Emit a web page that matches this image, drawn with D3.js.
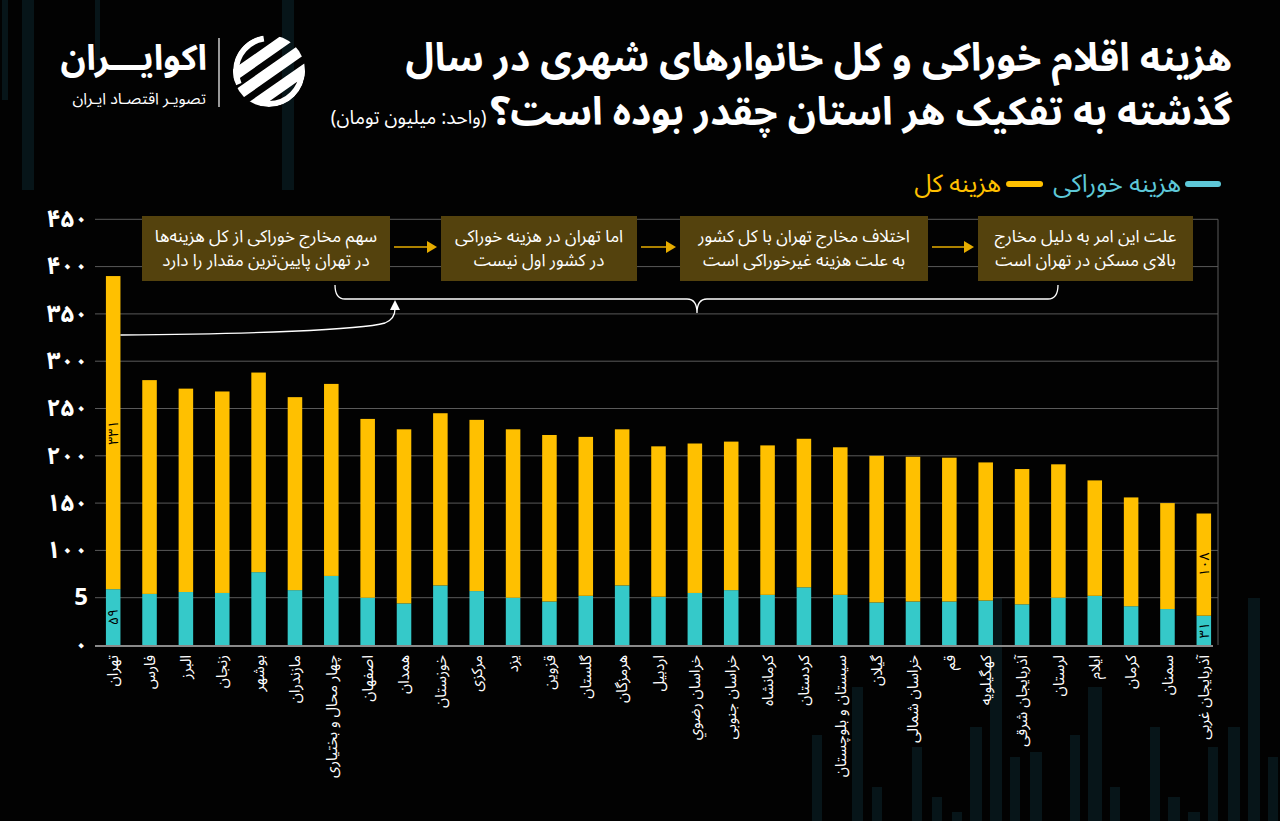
<!DOCTYPE html>
<html><head><meta charset="utf-8">
<script src="https://cdn.jsdelivr.net/npm/d3@7"></script>
<style>
html,body{margin:0;padding:0;background:#020202;}
svg{display:block;}
text{font-family:"Noto Sans Arabic","Vazirmatn","DejaVu Sans",sans-serif;}
</style></head>
<body>
<svg id="chart" width="1280" height="821"></svg>
<script>
// ---------- data ----------
const provinces = ["تهران","فارس","البرز","زنجان","بوشهر","مازندران","چهار محال و بختیاری","اصفهان","همدان","خوزستان","مرکزی","یزد","قزوین","گلستان","هرمزگان","اردبیل","خراسان رضوي","خراسان جنوبی","کرمانشاه","کردستان","سیستان و بلوچستان","گیلان","خراسان شمالی","قم","کهگیلویه","آذربایجان شرقی","لرستان","ایلام","کرمان","سمنان","آذربایجان غربی"];
const foodCost =    [59,54,56,55,77,58,73,50,44,63,57,50,46,52,63,51,55,58,53,61,53,45,46,46,47,43,50,52,41,38,31];
const nonFoodCost = [331,226,215,213,211,204,203,189,184,182,181,178,176,168,165,159,158,157,158,157,156,155,153,152,146,143,141,122,115,112,108];
const yTicks = [0,50,100,150,200,250,300,350,400,450];
const yTickLabels = ["۰","5","۱۰۰","۱۵۰","۲۰۰","۲۵۰","۳۰۰","۳۵۰","۴۰۰","۴۵۰"];
const labeledBars = ["تهران","آذربایجان غربی"];
const seriesNames = ["هزینه خوراکی","هزینه کل"];
const titleLines = ["هزینه اقلام خوراکی و کل خانوارهای شهری در سال","گذشته به تفکیک هر استان چقدر بوده است؟"];
const unitText = "(واحد: میلیون تومان)";
const notes = [
  ["سهم مخارج خوراکی از کل هزینه‌ها","در تهران پایین‌ترین مقدار را دارد"],
  ["اما تهران در هزینه خوراکی","در کشور اول نیست"],
  ["اختلاف مخارج تهران با کل کشور","به علت هزینه غیرخوراکی است"],
  ["علت این امر به دلیل مخارج","بالای مسکن در تهران است"]
];

// ---------- styles / layout ----------
const C_FOOD = "#35c9c9", C_TOTAL = "#ffc000", C_NOTE = "#54420d", C_LEGFOOD = "#5ec8d8";
const fa = s => String(s).replace(/\d/g, d => "۰۱۲۳۴۵۶۷۸۹"[d]);
const svg = d3.select("#chart");
svg.append("rect").attr("width",1280).attr("height",821).attr("fill","#020202");

// decorative background bars
const decor = [[2,0,6,100],[22,0,12,190],[95,0,5,60],[282,0,12,190],
 [812,735,10,86],[852,687,11,134],[872,787,10,34],[912,747,10,74],[932,797,10,24],[952,812,10,9],
 [970,727,12,94],[990,598,12,223],[1010,757,10,64],[1030,752,12,69],[1070,735,10,86],[1088,687,14,134],
 [1110,787,10,34],[1150,727,10,94],[1168,797,12,24],[1188,812,12,9],[1208,747,10,74],[1228,727,12,94],
 [1248,598,12,223],[1268,757,10,64]];
svg.append("g").selectAll("rect").data(decor).join("rect")
  .attr("x",d=>d[0]).attr("y",d=>d[1]).attr("width",d=>d[2]).attr("height",d=>d[3]).attr("fill","#071519");

// scales
const x = d3.scaleBand().domain(provinces).range([95,1222]).paddingInner(0.6).paddingOuter(0.3);
const y = d3.scaleLinear().domain([0,450]).range([645,219.3]);

// grid
const grid = svg.append("g");
grid.selectAll("line").data(yTicks.slice(1)).join("line")
  .attr("x1",95).attr("x2",1218).attr("y1",d=>y(d)).attr("y2",d=>y(d))
  .attr("stroke","#5a5a5a").attr("stroke-width",1);
grid.append("line").attr("x1",1218).attr("x2",1218).attr("y1",y(450)).attr("y2",y(0)).attr("stroke","#5a5a5a");

// y axis labels
const yAxis = d3.axisLeft(y).tickValues(yTicks).tickSize(0).tickPadding(0)
  .tickFormat((d,i)=>yTickLabels[i]);
const yg = svg.append("g").attr("transform","translate(88,0)").call(yAxis);
yg.select(".domain").remove();
yg.selectAll("text").attr("fill","#fff").attr("font-size",24).attr("font-weight","bold").attr("dy","0.3em");

// stacked bars
const rows = provinces.map((p,i)=>({p, food:foodCost[i], non:nonFoodCost[i]}));
const stack = d3.stack().keys(["food","non"])(rows);
const colors = [C_FOOD, C_TOTAL];
svg.append("g").selectAll("g").data(stack).join("g").attr("fill",(d,i)=>colors[i])
  .selectAll("rect").data(d=>d).join("rect")
  .attr("x",d=>x(d.data.p)).attr("width",x.bandwidth())
  .attr("y",d=>y(d[1])).attr("height",d=>y(d[0])-y(d[1]));

// bottom axis line
svg.append("line").attr("x1",95).attr("x2",1213).attr("y1",y(0)+1).attr("y2",y(0)+1)
  .attr("stroke","#8a8a8a").attr("stroke-width",2);

// x labels
const xAxis = d3.axisBottom(x).tickSize(0).tickPadding(0);
const xg = svg.append("g").attr("transform",`translate(0,${y(0)})`).call(xAxis);
xg.select(".domain").remove();
xg.selectAll("text").attr("fill","#fff").attr("font-size",15)
  .attr("transform","translate(0,10) rotate(-90)").attr("text-anchor","end")
  .attr("x",0).attr("y",0).attr("dy","0.35em");

// value labels inside labelled bars
const vl = svg.append("g").attr("font-size",14).attr("fill","#000").attr("text-anchor","middle");
stack.forEach(s=>{
  s.filter(d=>labeledBars.includes(d.data.p)).forEach(d=>{
    const cx = x(d.data.p)+x.bandwidth()/2, cy = (y(d[0])+y(d[1]))/2;
    vl.append("text").attr("transform",`translate(${cx},${cy}) rotate(-90)`)
      .attr("dy","0.35em").text(fa(d[1]-d[0]));
  });
});

// title
const tg = svg.append("g").attr("fill","#fff").attr("font-weight","bold").attr("font-size",39).attr("text-anchor","end");
tg.append("text").attr("x",1232).attr("y",71).text(titleLines[0]);
const t2 = tg.append("text").attr("x",1232).attr("y",125).text(titleLines[1]);
const w2 = t2.node().getComputedTextLength();
svg.append("text").attr("x",1232-w2-4).attr("y",124).attr("text-anchor","end")
  .attr("fill","#fff").attr("font-size",19).text(unitText);

// logo
const lg = svg.append("g");
lg.append("text").attr("x",207).attr("y",70).attr("text-anchor","end").attr("fill","#fff")
  .attr("font-weight","bold").attr("font-size",35).text("اکوایـــران");
lg.append("text").attr("x",206).attr("y",104).attr("text-anchor","end").attr("fill","#fff")
  .attr("font-size",16).text("تصویـر اقتصـاد ایـران");
lg.append("line").attr("x1",219).attr("x2",219).attr("y1",38).attr("y2",107).attr("stroke","#fff").attr("stroke-width",1.2);
const defs = svg.append("defs");
defs.append("clipPath").attr("id","logoclip").append("circle").attr("cx",269).attr("cy",71).attr("r",36);
const ic = lg.append("g").attr("clip-path","url(#logoclip)");
[-22,-4,14].forEach(o=>{
  ic.append("rect").attr("x",220).attr("y",71+o).attr("width",100).attr("height",11).attr("rx",5)
    .attr("fill","#fff").attr("transform",`rotate(-35,269,71)`);
});
ic.append("circle").attr("cx",269).attr("cy",71).attr("r",33).attr("fill","none").attr("stroke","#fff").attr("stroke-width",6)
  .attr("stroke-dasharray","60 30 60 57");

// legend
const leg = svg.append("g").attr("font-size",25);
leg.append("line").attr("x1",1188).attr("x2",1218).attr("y1",184).attr("y2",184).attr("stroke",C_LEGFOOD).attr("stroke-width",6).attr("stroke-linecap","round");
const lt1 = leg.append("text").attr("x",1181).attr("y",192).attr("text-anchor","end").attr("fill",C_LEGFOOD).text(seriesNames[0]);
const l1 = 1181 - lt1.node().getComputedTextLength();
leg.append("line").attr("x1",l1-44).attr("x2",l1-13).attr("y1",184).attr("y2",184).attr("stroke",C_TOTAL).attr("stroke-width",6).attr("stroke-linecap","round");
leg.append("text").attr("x",l1-52).attr("y",192).attr("text-anchor","end").attr("fill",C_TOTAL).text(seriesNames[1]);

// annotation boxes
const boxes = [[142,390],[441,637],[680,928],[978,1193]];
const ng = svg.append("g");
boxes.forEach((b,i)=>{
  ng.append("rect").attr("x",b[0]).attr("y",216).attr("width",b[1]-b[0]).attr("height",65).attr("fill",C_NOTE);
  const cx = (b[0]+b[1])/2;
  ng.append("text").attr("x",cx).attr("y",242).attr("text-anchor","middle").attr("fill","#fff").attr("font-size",17).text(notes[i][0]);
  ng.append("text").attr("x",cx).attr("y",266).attr("text-anchor","middle").attr("fill","#fff").attr("font-size",17).text(notes[i][1]);
  if(i<3){
    const x1 = b[1]+4, x2 = boxes[i+1][0]-4;
    ng.append("line").attr("x1",x1).attr("x2",x2-8).attr("y1",247).attr("y2",247).attr("stroke","#e6ac00").attr("stroke-width",1.5);
    ng.append("path").attr("d",`M${x2-10},241 L${x2},247 L${x2-10},253 Z`).attr("fill","#e6ac00");
  }
});
// brace
ng.append("path").attr("d","M335,285 Q335,299 345,299 L687,299 Q697,299 697,313 Q697,299 707,299 L1048,299 Q1058,299 1058,285")
  .attr("fill","none").attr("stroke","#fff").attr("stroke-width",1.3);
// curved arrow from Tehran
const tx = x("تهران")+x.bandwidth();
ng.append("path").attr("d",`M${tx},335 C250,334 360,330 385,323 Q395,319 395,309`)
  .attr("fill","none").attr("stroke","#fff").attr("stroke-width",1.3);
ng.append("path").attr("d","M390,310 L395,300 L400,310 Z").attr("fill","#fff");
</script>
</body></html>
